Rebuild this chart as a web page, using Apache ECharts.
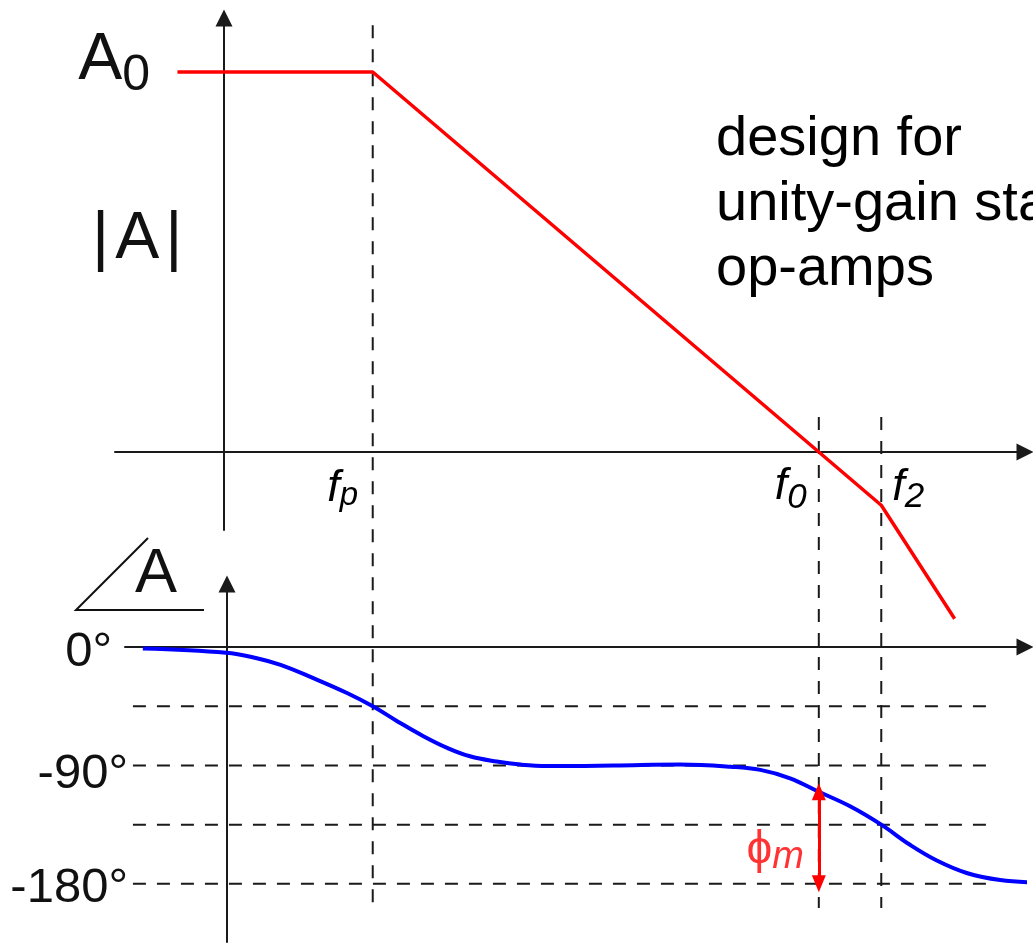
<!DOCTYPE html>
<html>
<head>
<meta charset="utf-8">
<script src="https://cdn.jsdelivr.net/npm/echarts@6/dist/echarts.min.js"></script>
<style>
  html, body { margin: 0; padding: 0; background: #ffffff; }
  #chart { width: 1033px; height: 943px; }
</style>
</head>
<body>
<div id="chart"></div>
<script>
// ---- Frequencies, in decades (log10 f) ----
const fpDec = 1.5;    // dominant pole
const f0Dec = 6.0;    // unity-gain frequency
const f2Dec = 6.63;   // second pole
const freqDec  = [fpDec, f0Dec, f2Dec];
const freqSubs = ['p', '0', '2'];

// ---- Asymptotic magnitude |A| (dB) ----
const a0Db    = 90;
const magLogF = [-0.47, fpDec, f0Dec, f2Dec, 7.37];
const magDb   = [a0Db, a0Db, 0, -12.6, -39.5];

// ---- Phase of A (degrees) ----
const phaseLogF = [-0.82, 0.02, 0.33, 0.57, 0.90, 1.24, 1.50, 1.75, 2.01, 2.25, 2.48,
                   2.75, 2.99, 3.26, 3.93, 4.60, 5.11, 5.41, 5.71, 6.00, 6.32, 6.63,
                   6.92, 7.19, 7.50, 7.83, 8.16];
const phaseDeg  = [-1, -4.2, -8.4, -13.5, -23.6, -34.9, -45, -56.5, -67.7, -76.6, -83.0,
                   -87.0, -89.3, -90.4, -90, -89.3, -90.9, -93.3, -99.7, -110, -121.2, -135,
                   -150.3, -162.2, -171.9, -177.1, -178.9];
const phaseAtF0 = -110;               // phase at the unity-gain frequency
const phaseFloor = -180;
const phaseGuides = [-45, -90, -135, -180];
const phaseTicks  = [0, -90, -180];
const phaseTickText = ['0°', '-90°', '-180°'];

// ---- Annotation text ----
const noteLines = ['design for', 'unity-gain stability', 'op-amps'];

// ---- Layout ----
const AXIS = '#1a1a1a';
const INK = '#111111';
const FONT = '"Liberation Sans", Arial, sans-serif';
const X_MIN_MAG = -1.1, X_MIN_PH = -1.0, X_MAX = 8.08;
const MAG_MIN = -18.47, MAG_MAX = 102.8;
const PH_MIN = -224.2, PH_MAX = 48;
// extents of the dashed guide lines (in axis units)
const V_GUIDE_TOP = [101.1, 8.3, 8.3];
const V_GUIDE_BOTTOM = -108;
const H_GUIDE_X = [-0.92, 7.73];

const zip = (xs, ys) => xs.map((x, i) => [x, ys[i]]);
const dashed = { color: AXIS, width: 2, type: [13, 11] };
const arrowLine = { onZero: false, symbol: ['none', 'triangle'], symbolSize: [17, 17],
                    lineStyle: { color: AXIS, width: 2 } };

function arrowAxis(extra) {
  return Object.assign({
    type: 'value',
    axisLine: arrowLine,
    axisTick: { show: false },
    splitLine: { show: false },
    axisLabel: { show: false }
  }, extra);
}

const series = [];

// vertical guides at f_p, f_0, f_2 (span both panels)
freqDec.forEach((f, i) => {
  series.push({
    type: 'line', xAxisIndex: 0, yAxisIndex: 0, clip: false, silent: true,
    symbol: 'none', lineStyle: dashed, z: 1,
    data: [[f, V_GUIDE_TOP[i]], [f, V_GUIDE_BOTTOM]]
  });
});

// horizontal phase guides
phaseGuides.forEach(p => {
  series.push({
    type: 'line', xAxisIndex: 1, yAxisIndex: 1, clip: false, silent: true,
    symbol: 'none', lineStyle: dashed, z: 1,
    data: [[H_GUIDE_X[0], p], [H_GUIDE_X[1], p]]
  });
});

// magnitude asymptote
series.push({
  type: 'line', xAxisIndex: 0, yAxisIndex: 0, clip: false, silent: true,
  symbol: 'none', z: 3,
  lineStyle: { color: '#ff0000', width: 3.5 },
  data: zip(magLogF, magDb)
});

// frequency labels under the magnitude axis
const italic = { fontFamily: FONT, fontStyle: 'italic', color: '#000' };
const freqShift = [[-30, 3], [-28, 1], [27, 2]];
series.push({
  type: 'scatter', xAxisIndex: 0, yAxisIndex: 0, silent: true, symbolSize: 0, z: 4,
  data: freqDec.map((f, i) => ({ value: [f, 0], label: { offset: freqShift[i] } })),
  label: {
    show: true, position: 'bottom', distance: 8, color: '#000', opacity: 1,
    formatter: p => '{f|f}{s' + p.dataIndex + '|' + freqSubs[p.dataIndex] + '}',
    rich: {
      f: Object.assign({ fontSize: 45, lineHeight: 50 }, italic),
      s0: Object.assign({ fontSize: 33, lineHeight: 34, padding: [16, 0, 0, 0] }, italic),
      s1: Object.assign({ fontSize: 35, lineHeight: 26, padding: [24, 0, 0, 0] }, italic),
      s2: Object.assign({ fontSize: 35, lineHeight: 30, padding: [20, 0, 0, 0] }, italic)
    }
  }
});

// phase curve with the phase-margin arrow
series.push({
  type: 'line', xAxisIndex: 1, yAxisIndex: 1, clip: false, silent: true,
  symbol: 'none', smooth: 0.4, z: 3,
  lineStyle: { color: '#0000ff', width: 4 },
  data: zip(phaseLogF, phaseDeg),
  markLine: {
    silent: true, animation: false,
    symbol: ['triangle', 'triangle'], symbolSize: [14, 17],
    lineStyle: { color: '#ff0000', width: 3, type: 'solid' },
    label: { show: false },
    data: [[{ coord: [f0Dec, phaseAtF0] }, { coord: [f0Dec, phaseFloor] }]]
  }
});

// phase-margin label
series.push({
  type: 'scatter', xAxisIndex: 1, yAxisIndex: 1, silent: true, symbolSize: 0, z: 4,
  data: [[f0Dec, (phaseAtF0 + phaseFloor) / 2]],
  label: {
    show: true, position: 'left', distance: 15, offset: [0, 12], color: '#ff0000',
    formatter: '{phi|ϕ}{m|m}',
    rich: {
      phi: { fontFamily: FONT, fontSize: 46, color: '#ff0000', lineHeight: 56 },
      m: { fontFamily: FONT, fontSize: 38, fontStyle: 'italic', color: '#ff0000',
           lineHeight: 40, padding: [16, 0, 0, 0] }
    }
  }
});

const option = {
  animation: false,
  backgroundColor: '#ffffff',
  grid: [
    { left: 115, right: 8, top: 18, height: 512, containLabel: false, outerBoundsMode: 'none' },
    { left: 125, right: 8, top: 584, height: 358, containLabel: false, outerBoundsMode: 'none' }
  ],
  xAxis: [
    // magnitude frequency axis, drawn at 0 dB
    arrowAxis({ gridIndex: 0, min: X_MIN_MAG, max: X_MAX, position: 'bottom', offset: -78 }),
    // phase frequency axis, drawn at 0°
    arrowAxis({ gridIndex: 1, min: X_MIN_PH, max: X_MAX, position: 'bottom', offset: -294.9 })
  ],
  yAxis: [
    arrowAxis({
      gridIndex: 0, min: MAG_MIN, max: MAG_MAX, position: 'left', offset: -109,
      axisLabel: {
        show: true, customValues: [a0Db], margin: 74,
        formatter: () => '{a|A}{s|0}',
        rich: {
          a: { fontFamily: FONT, fontSize: 66, color: INK, lineHeight: 40, padding: [8, 0, 30, 0] },
          s: { fontFamily: FONT, fontSize: 50, color: INK, lineHeight: 70, padding: [8, 0, 0, 0] }
        }
      }
    }),
    arrowAxis({
      gridIndex: 1, min: PH_MIN, max: PH_MAX, position: 'left', offset: -102,
      axisLabel: {
        show: true, customValues: phaseTicks, margin: 99,
        formatter: v => '{t' + phaseTicks.indexOf(v) + '|' + phaseTickText[phaseTicks.indexOf(v)] + '}',
        rich: {
          t0: { fontFamily: FONT, fontSize: 49, color: INK, lineHeight: 49, padding: [10, 16, 0, 0] },
          t1: { fontFamily: FONT, fontSize: 49, color: INK, lineHeight: 49, padding: [18, 0, 0, 0] },
          t2: { fontFamily: FONT, fontSize: 49, color: INK, lineHeight: 49, padding: [10, 0, 0, 0] }
        }
      }
    })
  ],
  series: series,
  graphic: [
    // magnitude axis title |A|
    { type: 'text', left: 92, top: 207, silent: true,
      style: { text: '{b|\u007C}{a|A}{b|\u007C}', fill: INK,
               rich: { b: { fontFamily: FONT, fontSize: 66, lineHeight: 70 },
                       a: { fontFamily: FONT, fontSize: 66, lineHeight: 70, padding: [0, 6, 0, 6] } } } },
    // phase title: angle sign and A
    { type: 'polyline', silent: true,
      shape: { points: [[148, 538], [76, 610], [204, 610]] },
      style: { stroke: INK, lineWidth: 2, fill: null } },
    { type: 'text', left: 135, top: 543, silent: true,
      style: { text: 'A', font: '63px ' + FONT, fill: INK } },
    // note
    ...noteLines.map((t, i) => ({
      type: 'text', left: 716, top: 112 + i * 65, silent: true,
      style: { text: t, font: '56px ' + FONT, fill: '#000' }
    }))
  ]
};

const chart = echarts.init(document.getElementById('chart'));
chart.setOption(option);
</script>
</body>
</html>
